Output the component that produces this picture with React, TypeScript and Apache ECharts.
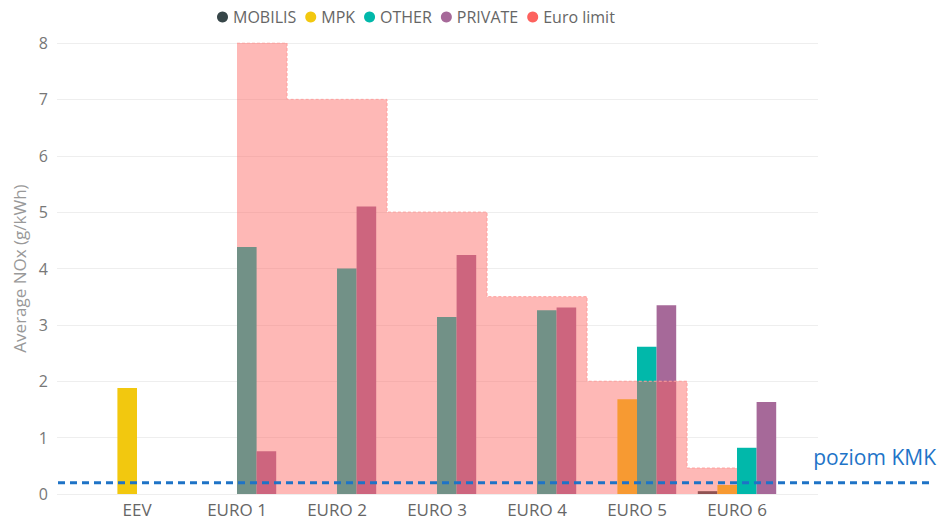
import React, { useEffect, useRef } from "react";
import * as echarts from "echarts";

const categories = ["EEV", "EURO 1", "EURO 2", "EURO 3", "EURO 4", "EURO 5", "EURO 6"];
const mobilis = [null, null, null, null, null, null, 0.05];
const mpk = [1.88, null, null, null, null, 1.68, 0.16];
const other = [null, 4.38, 4.0, 3.14, 3.26, 2.61, 0.82];
const privateV = [null, 0.76, 5.1, 4.24, 3.31, 3.35, 1.63];
const euroLimit = [null, 8, 7, 5, 3.5, 2, 0.46];
const yTicks = [0, 8, 1];
const kmkLevel = 0.2;
const kmkLabel = "poziom KMK";

const FONT = '"Segoe UI", "Open Sans", sans-serif';

// step points (category index, value) built from euroLimit: each level spans half a category either side, clipped to the first/last defined category
function stepPoints(vals: (number | null)[]) {
  const idx = vals.map((v, i) => (v == null ? -1 : i)).filter((i) => i >= 0);
  const first = idx[0];
  const last = idx[idx.length - 1];
  const pts: [number, number][] = [];
  idx.forEach((i) => {
    const v = vals[i] as number;
    pts.push([Math.max(i - 0.5, first), v]);
    pts.push([Math.min(i + 0.5, last), v]);
  });
  return pts;
}

export default function App() {
  const ref = useRef<HTMLDivElement>(null);
  useEffect(() => {
    if (!ref.current) return;
    const chart = echarts.init(ref.current, null, { renderer: "svg" });
    const barW = 19.6;
    chart.setOption({
      animation: false,
      textStyle: { fontFamily: FONT },
      legend: {
        left: 212,
        top: 4,
        itemGap: 9,
        itemWidth: 11,
        itemHeight: 11,
        icon: "circle",
        textStyle: { color: "#666", fontSize: 16, fontFamily: FONT },
        data: ["MOBILIS", "MPK", "OTHER", "PRIVATE", "Euro limit"],
      },
      grid: [
        { left: 57, right: 123, top: 43, bottom: 26 },
        { left: 87, right: 154, top: 43, bottom: 26 },
      ],
      xAxis: [
        { type: "value", gridIndex: 0, show: false, min: 0, max: 1 },
        {
          type: "category",
          gridIndex: 1,
          data: categories,
          axisLine: { show: false },
          axisTick: { show: false },
          axisLabel: { color: "#666", fontSize: 17, margin: 7, fontFamily: FONT },
        },
        { type: "value", gridIndex: 1, show: false, min: -0.5, max: categories.length - 0.5 },
      ],
      yAxis: [
        {
          type: "value",
          gridIndex: 0,
          min: yTicks[0],
          max: yTicks[1],
          interval: yTicks[2],
          name: "Average NOx (g/kWh)",
          nameLocation: "middle",
          nameGap: 27,
          nameTextStyle: { color: "#999", fontSize: 17, fontFamily: FONT },
          axisLine: { show: false },
          axisTick: { show: false },
          axisLabel: { color: "#777", fontSize: 16, margin: 9, fontFamily: FONT },
          splitLine: { lineStyle: { color: "#eeeeee", width: 1 } },
        },
        {
          type: "value",
          gridIndex: 1,
          min: yTicks[0],
          max: yTicks[1],
          interval: yTicks[2],
          show: false,
          splitLine: { show: false },
        },
      ],
      series: [
        { name: "MOBILIS", type: "bar", xAxisIndex: 1, yAxisIndex: 1, data: mobilis, barWidth: barW, barGap: "0%", itemStyle: { color: "#374649" }, z: 2 },
        { name: "MPK", type: "bar", xAxisIndex: 1, yAxisIndex: 1, data: mpk, barWidth: barW, barGap: "0%", itemStyle: { color: "#F2C80F" }, z: 2 },
        { name: "OTHER", type: "bar", xAxisIndex: 1, yAxisIndex: 1, data: other, barWidth: barW, barGap: "0%", itemStyle: { color: "#01B8AA" }, z: 2 },
        { name: "PRIVATE", type: "bar", xAxisIndex: 1, yAxisIndex: 1, data: privateV, barWidth: barW, barGap: "0%", itemStyle: { color: "#A66999" }, z: 2 },
        {
          name: "Euro limit",
          type: "line",
          xAxisIndex: 2,
          yAxisIndex: 1,
          data: stepPoints(euroLimit),
          showSymbol: false,
          symbol: "none",
          color: "#FD625E",
          itemStyle: { color: "#FD625E" },
          lineStyle: { color: "#FF9E9C", width: 1, type: [3, 2] },
          areaStyle: { color: "#FD625E", opacity: 0.45, origin: "start" },
          z: 5,
        },
      ],
    });
    const y = chart.convertToPixel({ yAxisIndex: 0 }, kmkLevel) as number;
    chart.setOption({
      graphic: [
        {
          type: "line",
          shape: { x1: 58, y1: y, x2: 932, y2: y },
          style: { stroke: "#1E73C6", lineWidth: 3, lineDash: [7, 5] },
          z: 100,
        },
        {
          type: "text",
          x: 936,
          y: y - 26,
          style: {
            text: kmkLabel,
            fill: "#1E74C8",
            fontSize: 21,
            fontFamily: FONT,
            align: "right",
            verticalAlign: "middle",
          },
          z: 100,
        },
      ],
    });
    return () => chart.dispose();
  }, []);
  return <div ref={ref} style={{ width: 941, height: 520, position: "absolute", left: 0, top: 0 }} />;
}
